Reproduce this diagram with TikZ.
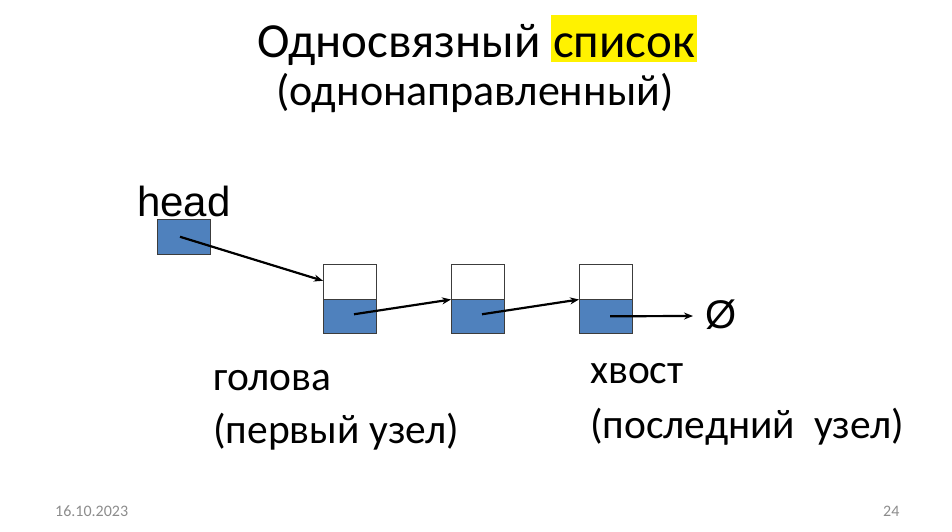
\documentclass[tikz,border=0pt]{standalone}
\usepackage{fontspec}
\setmainfont{Carlito}
\newfontfamily\arialf{Liberation Sans}
\usetikzlibrary{arrows.meta}
\definecolor{cellblue}{HTML}{4F81BD}
\definecolor{cellborder}{HTML}{3C3C3C}
\definecolor{footgray}{HTML}{8C8C8C}
\begin{document}
\begin{tikzpicture}[x=1pt,y=-1pt,
  txt/.style={inner sep=0pt,anchor=base west},
  title/.style={txt,font=\fontsize{49}{56}\selectfont},
  hl/.style={fill=yellow,inner xsep=2pt,inner ysep=0pt,text height=42pt,text depth=5pt},
  sub/.style={inner sep=0pt,anchor=base,font=\fontsize{44}{50}\selectfont},
  lbl/.style={txt,font=\fontsize{41.5}{48}\selectfont},
  foot/.style={txt,text=footgray,font=\fontsize{16}{18}\selectfont},
  cell/.style={draw=cellborder,line width=1pt,minimum width=53pt,minimum height=34.5pt,inner sep=0pt,anchor=north west},
  data/.style={cell,fill=white},
  ptr/.style={cell,fill=cellblue},
  link/.style={line width=2.2pt,-{Stealth[length=9pt,width=7pt]}}
]
\useasboundingbox (0,0) rectangle (952,531);
\node[title,anchor=base east] (t1) at (541,57) {Односвязный};
\node[title,hl] (t2) at (551,57) {список};
\node[sub] (t3) at (475,105) {(однонаправленный)};
\node[txt,font=\arialf\fontsize{42}{46}\selectfont] (head) at (137,216) {head};
\node[ptr] (hb) at (157,219) {};
\node[data] (d1) at (323,264) {};
\node[ptr] (p1) at (323,298.5) {};
\node[data] (d2) at (451,264) {};
\node[ptr] (p2) at (451,298.5) {};
\node[data] (d3) at (579,264) {};
\node[ptr] (p3) at (579,298.5) {};
\coordinate (nullpt) at (693,316);
\node[inner sep=0pt,anchor=west,font=\arialf\fontsize{40}{46}\selectfont] (nul) at (705,315) {Ø};
\draw[link] ([xshift=-4pt]hb.center) -- ([yshift=1pt]d1.west);
\draw[link] ([xshift=4pt,yshift=2pt]p1.center) -- (d2.south west);
\draw[link] ([xshift=4pt,yshift=2pt]p2.center) -- (d3.south west);
\draw[link] ([xshift=4pt]p3.center) -- (nullpt);
\node[lbl] (g1) at (213,390) {голова};
\node[lbl] (g2) at (213,443) {(первый узел)};
\node[lbl] (x1) at (590,383) {хвост};
\node[lbl] (x2) at (590,438) {(последний\ \ узел)};
\node[foot] (date) at (55,516) {16.10.2023};
\node[foot] (num) at (883,516) {24};
\end{tikzpicture}
\end{document}
